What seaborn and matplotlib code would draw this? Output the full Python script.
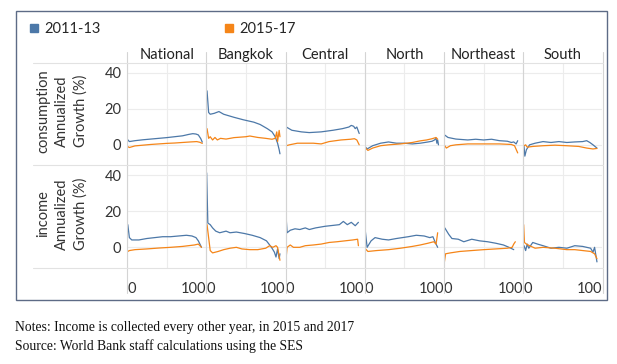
import numpy as np
import pandas as pd
import matplotlib
matplotlib.use("Agg")
import matplotlib.pyplot as plt
from matplotlib.lines import Line2D
import seaborn as sns

# --- data: (percentile, annualized growth %) ---
regions = ["National", "Bangkok", "Central", "North", "Northeast", "South"]
measures = ["consumption", "income"]
periods = ["2011-13", "2015-17"]

cons_national_1113 = [(1, 2.8), (3, 1.8), (10, 2.3), (20, 2.8), (30, 3.2), (40, 3.6), (50, 4.0), (60, 4.5),
                      (70, 5.0), (78, 5.8), (83, 6.2), (87, 6.0), (90, 5.5), (93, 3.5), (95, 1.5)]
cons_national_1517 = [(1, -1.0), (3, -1.5), (10, -0.6), (20, -0.2), (30, 0.2), (40, 0.5), (50, 0.8), (60, 1.0),
                      (70, 1.3), (80, 1.6), (88, 1.8), (92, 1.4), (95, 0.8)]
cons_bangkok_1113 = [(1, 30), (3, 18), (5, 17), (10, 17.5), (16, 18.5), (22, 17), (35, 15.3), (47, 13.9),
                     (60, 12.6), (68, 11.3), (77, 9.0), (83, 7.2), (87, 4.5), (90, 0.9), (92, -2.7), (93, -5)]
cons_bangkok_1517 = [(1, 9.0), (3, 3.6), (5, 4.5), (8, 2.7), (11, 4.1), (14, 2.7), (18, 3.6), (25, 3.2),
                     (35, 4.0), (50, 4.5), (55, 4.9), (65, 4.1), (75, 3.6), (83, 3.1), (87, 3.6), (89, 7.2),
                     (90, 1.8), (92, 8.0), (93, 4.5)]
cons_central_1113 = [(1, 9.9), (8, 8.1), (20, 7.2), (30, 6.8), (45, 7.2), (60, 8.1), (72, 9.0), (80, 9.9),
                     (83, 10.8), (86, 10.3), (88, 9.0), (90, 9.9), (93, 6.3)]
cons_central_1517 = [(1, -0.5), (5, 0.0), (15, 0.9), (35, 0.9), (45, 0.5), (55, 1.8), (70, 2.7), (82, 3.1),
                     (87, 3.4), (90, 2.7), (93, 0.0)]
cons_north_1113 = [(1, -1.3), (3, -2.3), (10, -0.5), (20, 0.9), (30, 1.6), (40, 0.9), (50, 0.9), (60, 0.5),
                   (70, 0.9), (80, 1.6), (85, 2.0), (88, 2.7), (90, 3.6), (91, 0.9), (92, 2.7), (93, 0.0)]
cons_north_1517 = [(1, -1.8), (4, -3.1), (10, -1.8), (20, -0.5), (30, 0.0), (45, 0.5), (60, 1.3), (70, 2.2),
                   (78, 2.7), (85, 3.4), (90, 4.1), (92, 3.1)]
cons_northeast_1113 = [(1, 5.4), (5, 4.1), (15, 3.2), (30, 2.7), (40, 3.1), (50, 2.7), (60, 3.1), (70, 2.3),
                       (80, 2.0), (85, 1.3), (88, 1.6), (91, 0.5), (93, 2.3)]
cons_northeast_1517 = [(1, -0.5), (3, -1.8), (8, -0.5), (15, 0.0), (30, 0.5), (50, 0.5), (70, 0.5), (85, 0.2),
                       (89, -0.5), (93, -4.5)]
cons_south_1113 = [(1, -0.9), (2, -6.3), (4, -2.7), (8, 0.0), (15, 0.9), (25, 1.8), (35, 1.3), (45, 1.8),
                   (55, 1.3), (65, 1.6), (75, 1.8), (80, 2.3), (84, 1.3), (88, 0.0), (93, -1.8)]
cons_south_1517 = [(1, -0.5), (3, 0.0), (5, -1.3), (12, -0.9), (25, -0.5), (40, -0.2), (55, -0.5), (70, -0.9),
                   (80, -1.8), (88, -2.3), (93, -2.0)]

inc_national_1113 = [(1, 12.6), (3, 5.4), (6, 4.1), (15, 4.1), (25, 4.9), (35, 5.4), (45, 5.9), (55, 5.9),
                     (65, 6.3), (75, 6.7), (82, 6.3), (87, 5.4), (90, 3.6), (94, 0.0)]
inc_national_1517 = [(1, -2.3), (3, -1.8), (10, -1.3), (25, -0.9), (40, -0.4), (55, 0.0), (70, 0.5), (85, 1.3),
                     (90, 1.8), (94, 0.0)]
inc_bangkok_1113 = [(0.5, 41.4), (2, 13.5), (5, 12.6), (8, 10.8), (12, 9.0), (17, 8.1), (25, 9.0), (30, 8.1),
                    (38, 8.5), (48, 7.7), (58, 6.7), (68, 5.4), (76, 3.6), (80, 1.3), (83, -0.5), (86, -2.7),
                    (88, -5.4), (90, -0.9), (92, -6.3), (93, -3.6)]
inc_bangkok_1517 = [(1, 12.6), (3, 5.4), (5, -1.8), (8, -3.1), (15, -2.3), (22, -1.3), (30, -0.5), (38, 0.0),
                    (45, -0.9), (55, -1.3), (65, -1.3), (75, -0.5), (80, 0.9), (84, 0.0), (88, 0.9), (90, 0.0),
                    (93, -7.2)]
inc_central_1113 = [(1, 15.3), (2, 8.1), (6, 9.5), (12, 10.3), (18, 9.9), (25, 10.8), (30, 9.9), (38, 10.8),
                    (50, 11.7), (60, 12.2), (68, 12.6), (73, 14.4), (78, 12.6), (83, 13.9), (88, 12.0), (92, 13.9)]
inc_central_1517 = [(0.5, -7.2), (2, 0.0), (6, 1.3), (10, 0.0), (18, 0.0), (25, 0.9), (35, 1.3), (45, 1.8),
                    (55, 2.7), (65, 3.1), (75, 3.6), (85, 4.1), (91, 4.5), (92, 0.9)]
inc_north_1113 = [(0.5, 9.9), (3, 0.0), (8, 3.6), (13, 5.4), (22, 4.5), (30, 4.1), (40, 4.9), (55, 5.9),
                  (65, 6.7), (75, 6.3), (82, 5.4), (86, 5.9), (89, 2.7), (92, 0.0)]
inc_north_1517 = [(1, -0.9), (4, -2.3), (15, -1.8), (30, -1.3), (45, -0.5), (60, 0.5), (70, 1.3), (80, 2.3),
                  (87, 3.1), (90, 1.8), (92, 8.1)]
inc_northeast_1113 = [(1, 10.8), (6, 7.2), (10, 4.9), (18, 4.5), (25, 3.1), (35, 4.5), (45, 3.6), (55, 3.1),
                      (65, 2.3), (75, 1.3), (82, 0.0), (88, -1.3)]
inc_northeast_1517 = [(0.5, -8.1), (2, -3.6), (8, -3.1), (20, -2.3), (35, -1.8), (50, -1.3), (65, -0.9),
                      (80, -0.5), (86, 0.0), (88, 1.8), (90, 3.1)]
inc_south_1113 = [(1, 0.9), (3, -1.8), (5, 1.8), (7, -0.5), (12, 2.7), (18, 1.8), (25, 0.9), (35, -0.5),
                  (45, 0.0), (55, -0.5), (65, 0.9), (75, 0.5), (85, -0.5), (88, -2.7), (90, 0.0), (93, -8.1)]
inc_south_1517 = [(0.5, 12.6), (1.5, 2.7), (4, 1.8), (8, 0.9), (15, -0.5), (25, 0.0), (40, -0.5), (55, -1.3),
                  (65, -1.3), (75, -1.8), (85, -2.3), (90, -3.6), (93, -6.3)]

series = {
    ("consumption", "National"): (cons_national_1113, cons_national_1517),
    ("consumption", "Bangkok"): (cons_bangkok_1113, cons_bangkok_1517),
    ("consumption", "Central"): (cons_central_1113, cons_central_1517),
    ("consumption", "North"): (cons_north_1113, cons_north_1517),
    ("consumption", "Northeast"): (cons_northeast_1113, cons_northeast_1517),
    ("consumption", "South"): (cons_south_1113, cons_south_1517),
    ("income", "National"): (inc_national_1113, inc_national_1517),
    ("income", "Bangkok"): (inc_bangkok_1113, inc_bangkok_1517),
    ("income", "Central"): (inc_central_1113, inc_central_1517),
    ("income", "North"): (inc_north_1113, inc_north_1517),
    ("income", "Northeast"): (inc_northeast_1113, inc_northeast_1517),
    ("income", "South"): (inc_south_1113, inc_south_1517),
}

rows = []
for (measure, region), pair in series.items():
    for period, pts in zip(periods, pair):
        for pct, val in pts:
            rows.append({"measure": measure, "region": region, "period": period, "pct": pct, "growth": val})
df = pd.DataFrame(rows)

# --- style ---
sns.set_style("whitegrid", {"grid.color": "#ececec", "axes.edgecolor": "#d0d0d0"})
plt.rcParams["font.family"] = ["Lato", "DejaVu Sans"]
colors = {"2011-13": "#4c78a8", "2015-17": "#f58518"}
sep_color = "#d4d4d4"

W, H = 617, 364
fig, axes = plt.subplots(2, 6, figsize=(W / 100, H / 100), dpi=100, sharex=True, sharey=True)
left, right, top, bottom = 127, 602.5, 63, 268
fig.subplots_adjust(left=left / W, right=right / W, top=1 - top / H, bottom=1 - bottom / H,
                    wspace=0, hspace=0)

for i, measure in enumerate(measures):
    for j, region in enumerate(regions):
        ax = axes[i, j]
        sub = df[(df.measure == measure) & (df.region == region)]
        sns.lineplot(data=sub, x="pct", y="growth", hue="period", palette=colors,
                     hue_order=periods, linewidth=0.9, ax=ax, legend=False, sort=True)
        ax.set_xlim(0, 100)
        ax.set_ylim(-11.5, 45.5)
        ax.set_xticks([0, 50, 100])
        ax.set_yticks([0, 20, 40])
        ax.set_xlabel("")
        ax.set_ylabel("")
        for s in ax.spines.values():
            s.set_visible(False)
        ax.tick_params(length=0, labelsize=10.5, colors="#333333", pad=4)
        if i == 0:
            ax.set_title(region, fontsize=10.5, color="#222222", pad=3)
        if i == 1:
            ax.set_xticklabels(["0", "", "100"])
            labs = ax.get_xticklabels()
            labs[0].set_ha("left")
            labs[2].set_ha("right")
            ax.tick_params(axis="x", pad=10)

# separators between facets, light header lines
for k in range(7):
    x = (left + k * (right - left) / 6) / W
    fig.add_artist(Line2D([x, x], [1 - 52 / H, 1 - 293 / H], color=sep_color, lw=0.8))
for yy in (top, (top + bottom) / 2, bottom):
    fig.add_artist(Line2D([33 / W, right / W], [1 - yy / H, 1 - yy / H], color="#e2e2e2", lw=0.8))

# row labels
fig.text(62 / W, 1 - 111 / H, "consumption\nAnnualized\nGrowth (%)", rotation=90, ha="center",
         va="center", fontsize=10.5, color="#333333", linespacing=1.4, multialignment="center")
fig.text(62 / W, 1 - 214 / H, "income\nAnnualized\nGrowth (%)", rotation=90, ha="center",
         va="center", fontsize=10.5, color="#333333", linespacing=1.4, multialignment="center")

# legend
handles = [Line2D([], [], marker="s", ls="", color=colors[p], markersize=5.5) for p in periods]
fig.legend(handles, periods, loc="center left", bbox_to_anchor=(15 / W, 1 - 29 / H), ncol=2,
           frameon=False, fontsize=10.5, handletextpad=0.3, columnspacing=8.4, handlelength=0.8)

# outer box
fig.add_artist(plt.Rectangle((16 / W, 1 - 300 / H), (607 - 16) / W, (300 - 11) / H,
                             transform=fig.transFigure, fill=False, ec="#5d6b86", lw=1.0))

# notes
fig.text(15 / W, 1 - 327 / H, "Notes: Income is collected every other year, in 2015 and 2017",
         family="Liberation Serif", fontsize=9.8, va="center", color="#111111")
fig.text(15 / W, 1 - 346 / H, "Source: World Bank staff calculations using the SES",
         family="Liberation Serif", fontsize=9.8, va="center", color="#111111")

fig.savefig("out.png", dpi=100)
